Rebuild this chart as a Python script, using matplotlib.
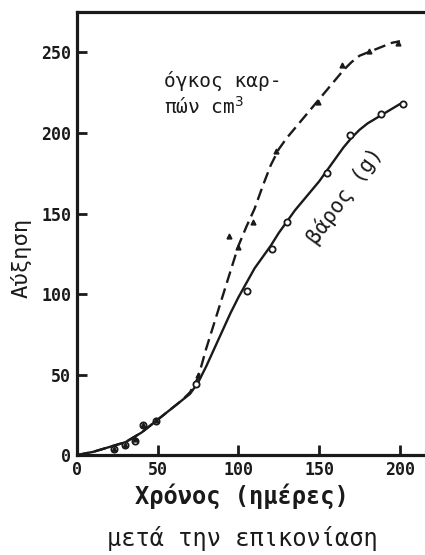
import matplotlib
matplotlib.use("Agg")
import matplotlib.pyplot as plt

# measured points
w_x = [23, 30, 36, 41, 49, 74, 105, 121, 130, 155, 169, 188, 202]
w_y = [4, 6, 9, 19, 21, 44, 102, 128, 145, 175, 199, 212, 218]
v_x = [23, 30, 36, 41, 49, 75, 94, 100, 109, 123, 149, 164, 181, 199]
v_y = [4, 6, 10, 19, 22, 50, 136, 129, 145, 189, 219, 242, 251, 256]

# hand-drawn curves
cw_x = [0, 5, 10, 15, 20, 25, 30, 35, 40, 45, 50, 55, 60, 65, 70, 75, 80, 85, 90, 95, 100,
        105, 110, 115, 120, 125, 130, 135, 140, 145, 150, 155, 160, 165, 170, 175, 180,
        185, 190, 195, 200]
cw_y = [0, 1, 2, 3.5, 5, 6.5, 8, 11, 14, 18, 22, 26, 30, 34, 38, 45, 55, 66, 77, 88, 98,
        107, 116, 123, 130, 138, 145, 152, 158, 164, 170, 177, 184, 191, 197, 202, 206,
        209, 212, 215, 218]
cv_x = [0, 5, 10, 15, 20, 25, 30, 35, 40, 45, 50, 55, 60, 65, 70, 75, 80, 85, 90, 95, 100,
        105, 110, 115, 120, 125, 130, 135, 140, 145, 150, 155, 160, 165, 170, 175, 180,
        185, 190, 195, 200]
cv_y = [0, 1, 2, 3.5, 5, 6.5, 8, 11, 14, 18, 22, 26, 30, 34, 39, 48, 66, 82, 98, 114, 130,
        142, 153, 167, 180, 190, 197, 203, 209, 215, 221, 227, 233, 239, 244, 248, 250,
        252, 254, 256, 257]

x_ticks = [0, 50, 100, 150, 200]
y_ticks = [0, 50, 100, 150, 200, 250]

mono = "DejaVu Sans Mono"
ink = "#1a1a1a"

fig = plt.figure(figsize=(4.25, 5.55), dpi=100)
ax = fig.add_axes([0.181, 0.180, 0.819, 0.798])
ax.set_xlim(0, 215.5)
ax.set_ylim(0, 275)

ax.plot(cw_x, cw_y, color=ink, lw=1.7, solid_capstyle="round", solid_joinstyle="round")
ax.plot(cv_x, cv_y, color=ink, lw=1.7, ls=(0, (5, 2.5)))
ax.plot(w_x, w_y, "o", ms=4.5, mfc="white", mec=ink, mew=1.3)
ax.plot(v_x, v_y, "^", ms=3.5, mfc=ink, mec=ink)

ax.spines["right"].set_visible(False)
for s in ["left", "bottom", "top"]:
    ax.spines[s].set_linewidth(2.3)
    ax.spines[s].set_color(ink)

ax.set_xticks(x_ticks)
ax.set_yticks(y_ticks)
ax.tick_params(direction="in", length=7, width=2, color=ink,
               labelsize=12, labelcolor=ink, pad=4)
for lab in ax.get_xticklabels() + ax.get_yticklabels():
    lab.set_fontfamily(mono)
    lab.set_fontweight("bold")

ax.text(54, 224, "όγκος καρ-\nπών cm$^3$", fontsize=14, family=mono,
        color=ink, ha="left", va="center", linespacing=1.3)
ax.text(166, 161, "βάρος (g)", fontsize=15, family=mono, color=ink,
        rotation=54, ha="center", va="center")

fig.text(0.05, 0.535, "Αύξηση", rotation=90, fontsize=16, family=mono,
         color=ink, ha="center", va="center")
fig.text(0.57, 0.105, "Χρόνος (ημέρες)", fontsize=17, family=mono,
         color=ink, ha="center", va="center", fontweight="bold")
fig.text(0.57, 0.03, "μετά την επικονίαση", fontsize=17, family=mono,
         color=ink, ha="center", va="center")

fig.savefig("out.png", dpi=100)
